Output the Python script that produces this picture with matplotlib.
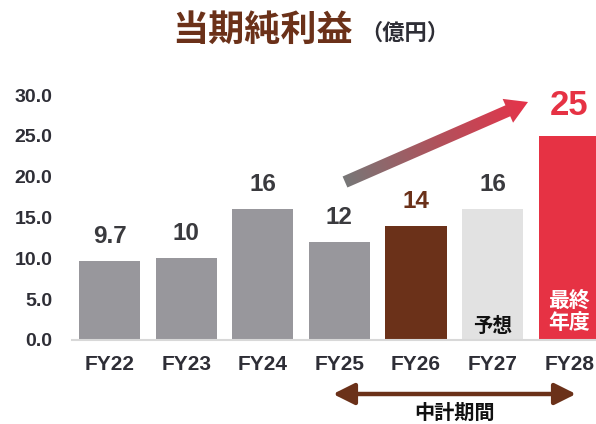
import numpy as np
import matplotlib
matplotlib.use("Agg")
import matplotlib.pyplot as plt
from matplotlib.patches import Polygon, FancyArrowPatch
from matplotlib.colors import LinearSegmentedColormap

categories = ["FY22", "FY23", "FY24", "FY25", "FY26", "FY27", "FY28"]
values = [9.7, 10, 16, 12, 14, 16, 25]
value_labels = ["9.7", "10", "16", "12", "14", "16", "25"]
yticks = [0, 5, 10, 15, 20, 25, 30]
ytick_labels = ["0.0", "5.0", "10.0", "15.0", "20.0", "25.0", "30.0"]

bar_colors = ["#98979c", "#98979c", "#98979c", "#98979c", "#6b3119", "#e2e2e2", "#e63244"]
label_colors = ["#3a3a3e", "#3a3a3e", "#3a3a3e", "#3a3a3e", "#6b3119", "#3a3a3e", "#e63244"]

JP = ["Noto Sans CJK JP", "DejaVu Sans"]
NUM = ["Liberation Sans", "DejaVu Sans"]

W, H = 596, 424
fig = plt.figure(figsize=(W / 100, H / 100), dpi=100)

def px(x0, y0, x1, y1):
    return [x0 / W, 1 - y1 / H, (x1 - x0) / W, (y1 - y0) / H]

ax = fig.add_axes(px(72, 95, 596, 340))
x = np.arange(len(categories))
ax.bar(x, values, width=0.8, color=bar_colors, zorder=2)
ax.set_xlim(-0.49, 6.35)
ax.set_ylim(0, 30)
for s in ["top", "right", "left"]:
    ax.spines[s].set_visible(False)
ax.spines["bottom"].set_color("#d8d8d8")
ax.spines["bottom"].set_linewidth(1.5)
ax.set_yticks(yticks)
ax.set_yticklabels(ytick_labels, fontsize=14, fontweight="bold", color="#2e2e36", family=NUM)
ax.tick_params(axis="y", length=0, pad=14)
ax.set_xticks(x)
ax.set_xticklabels(categories, fontsize=15, fontweight="bold", color="#2e2e36", family=NUM)
ax.tick_params(axis="x", length=0, pad=11)

for i, (v, lab, c) in enumerate(zip(values, value_labels, label_colors)):
    big = (i == len(values) - 1)
    ax.annotate(lab, (x[i], v), xytext=(0, 15 if big else 13), textcoords="offset points",
                ha="center", va="baseline", fontsize=25 if big else 17.5,
                fontweight="bold", color=c, family=NUM)

ax.text(x[5], 1.6, "予想", ha="center", va="center", fontsize=14, fontweight="bold",
        color="#111111", family=JP)
ax.text(x[6], 3.5, "最終\n年度", ha="center", va="center", fontsize=15, fontweight="bold",
        color="white", family=JP, linespacing=1.1)

# overlay in pixel coordinates
ov = fig.add_axes([0, 0, 1, 1], facecolor="none")
ov.set_xlim(0, W)
ov.set_ylim(H, 0)
ov.axis("off")

# gradient arrow
x0, y0 = 345, 182
x1, y1 = 528, 102
d = np.array([x1 - x0, y1 - y0], float)
L = np.hypot(*d)
u = d / L
n = np.array([-u[1], u[0]])
sw = 6.0   # half shaft width
hw = 13.0  # half head width
hl = 22.0  # head length
p0 = np.array([x0, y0], float)
pb = p0 + u * (L - hl)
pt = p0 + u * L
poly = [p0 + n * sw, pb + n * sw, pb + n * hw, pt, pb - n * hw, pb - n * sw, p0 - n * sw]
patch = Polygon(poly, closed=True, facecolor="none", edgecolor="none")
ov.add_patch(patch)
gx, gy = np.meshgrid(np.arange(W) + 0.5, np.arange(H) + 0.5)
t = ((gx - x0) * u[0] + (gy - y0) * u[1]) / L
t = np.clip(t, 0, 1)
cmap = LinearSegmentedColormap.from_list("g", ["#777777", "#b0525c", "#e6334a"])
im = ov.imshow(t, cmap=cmap, extent=(0, W, H, 0), origin="upper", vmin=0, vmax=1,
               interpolation="bilinear", zorder=3)
im.set_clip_path(patch)
ov.set_xlim(0, W)
ov.set_ylim(H, 0)

# double arrow for mid-term plan
arr = FancyArrowPatch((333, 394), (576, 394), arrowstyle="<|-|>,head_length=4.6,head_width=2.3",
                      color="#6b3119", linewidth=3.2, mutation_scale=2.8, shrinkA=0, shrinkB=0)
ov.add_patch(arr)
ov.text(455, 412, "中計期間", ha="center", va="center", fontsize=14.5, fontweight="bold",
        color="#111111", family=JP)

# title
fig.text(263 / W, 1 - 30 / H, "当期純利益", ha="center", va="center", fontsize=26,
         fontweight="bold", color="#6b3119", family=JP)
fig.text(360 / W, 1 - 33 / H, "（億円）", ha="left", va="center", fontsize=16,
         fontweight="bold", color="#2e2e36", family=JP)

fig.savefig("out.png", dpi=100)
